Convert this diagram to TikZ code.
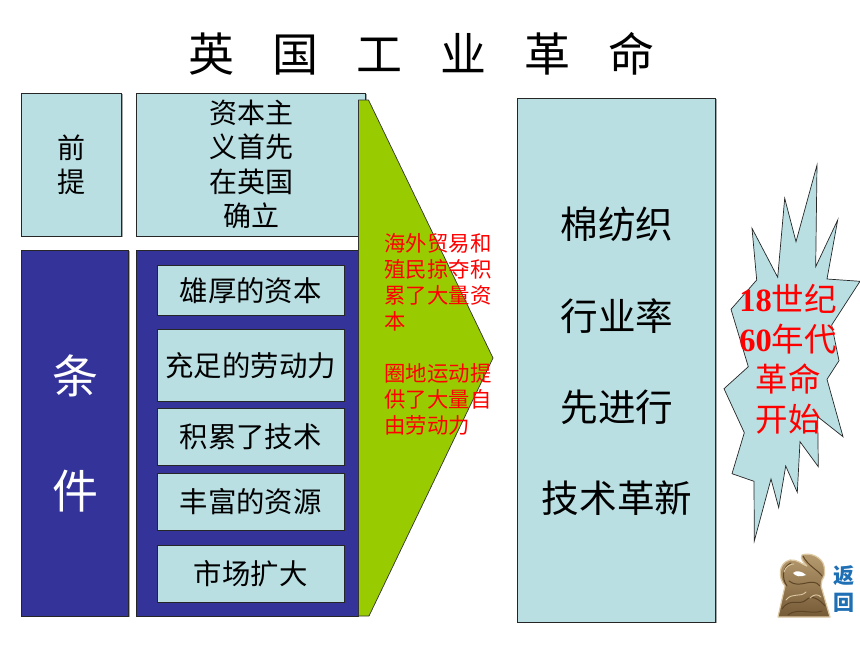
\documentclass[tikz,border=0pt]{standalone}
\usepackage{fontspec}
\usetikzlibrary{shadows}
\setmainfont{Liberation Serif}
\newfontfamily\cjk{Noto Sans CJK SC}
\definecolor{boxblue}{HTML}{B9DFE3}
\definecolor{navy}{HTML}{333399}
\definecolor{leaf}{HTML}{99CC00}
\definecolor{backblue}{HTML}{1F6FB5}
\definecolor{bronze}{HTML}{A98A5C}
\definecolor{bronzedark}{HTML}{5E4526}
\definecolor{bronzelight}{HTML}{DCC8A2}
\newcommand{\fs}[2]{\fontsize{#1}{#2}\selectfont\cjk}
\tikzset{
  x=1pt,y=-1pt,
  flat/.style={draw=black!85,line width=0.8pt,inner sep=0pt,outer sep=0pt,
    drop shadow={shadow xshift=1.2pt,shadow yshift=-0.8pt,fill=black!35,opacity=1}},
  lightbox/.style={flat,fill=boxblue,align=center,text=black},
  navybox/.style={flat,fill=navy,align=center,text=white},
  plain/.style={inner sep=0pt,outer sep=0pt,align=center},
  bronzeline/.style={draw=bronzedark,line width=1pt,line cap=round},
  bronzeglow/.style={draw=bronzelight,line width=0.9pt,line cap=round},
  innerbox/.style={lightbox,minimum width=186.5pt,font=\fs{28.4}{32}},
  bigtext/.style={plain,font=\fs{37.6}{40}},
}
\begin{document}
\begin{tikzpicture}
\useasboundingbox (0,0) rectangle (860,645);
% title
\node[plain,font=\fs{46}{50}] (title) at (421.5,54) {英\hspace{38pt}国\hspace{38pt}工\hspace{38pt}业\hspace{38pt}革\hspace{38pt}命};
% top boxes
\node[lightbox,minimum width=100pt,minimum height=143pt] (qian) at (71.75,164.5) {};
\node[plain,font=\fs{28}{34.3}] (qiantext) at (71.75,165) {前\\提};
\node[lightbox,minimum width=229.5pt,minimum height=143pt] (ziben) at (250.75,164.5) {};
\node[plain,font=\fs{28}{34.3}] (zibentext) at (251,164.5) {资本主\\义首先\\在英国\\确立};
% navy boxes
\node[navybox,minimum width=107pt,minimum height=365.5pt] (tiao) at (75.25,433.25) {};
\node[plain,text=white,font=\fs{46}{50}] (tiaoa) at (75.25,376) {条};
\node[plain,text=white,font=\fs{46}{50}] (tiaob) at (75.25,491) {件};
\node[navybox,minimum width=222pt,minimum height=365.5pt] (jian) at (247,433.25) {};
% inner boxes
\node[innerbox,minimum height=50.5pt] (a1) at (250.75,290.25) {雄厚的资本};
\node[innerbox,minimum height=72pt] (a2) at (250.75,365.5) {充足的劳动力};
\node[innerbox,minimum height=57pt] (a3) at (250.75,436.5) {积累了技术};
\node[innerbox,minimum height=57pt] (a4) at (250.75,501.5) {丰富的资源};
\node[innerbox,minimum height=57pt] (a5) at (250.75,573.5) {市场扩大};
% green arrow
\draw[draw=black!80,line width=0.7pt,fill=leaf,line join=round] (358.5,100) -- (368.5,100) -- (493,358) -- (369,616) -- (358.5,616) -- cycle;
\node[plain,anchor=north west,align=left,text=red,font=\fs{21.4}{26}] (redtext) at (384.5,233.5) {海外贸易和\\殖民掠夺积\\累了大量资\\本\\[26pt]圈地运动提\\供了大量自\\由劳动力};
% right box
\node[lightbox,minimum width=198pt,minimum height=523.5pt] (right) at (616.75,360.25) {};
\node[bigtext] (r1) at (617,224) {棉纺织};
\node[bigtext] (r2) at (617,316) {行业率};
\node[bigtext] (r3) at (617,407) {先进行};
\node[bigtext] (r4) at (617,498) {技术革新};
% burst
\draw[draw=black!85,line width=0.7pt,fill=boxblue,line join=miter]
 (817,165) -- (815.7,266.7) -- (837.7,220) -- (827,279) -- (860,281.3) -- (831.7,325)
 -- (839,360.7) -- (827,379.3) -- (843,436.7) -- (817.7,416.7) -- (818.3,466.7) -- (800,441.7)
 -- (797.3,492.3) -- (785.7,466) -- (778.7,507.7) -- (771,479) -- (754.3,541) -- (754,481.3)
 -- (732,473.7) -- (744.3,432.7) -- (724,388.7) -- (748.3,366.7) -- (731,309.3) -- (756.7,280)
 -- (752,228.3) -- (777.7,277.3) -- (784.7,198.3) -- (796,241.7) -- cycle;
\node[plain,text=red,font=\fontsize{32.5}{40}\selectfont] (burst) at (788,359) {\textbf{18}{\cjk 世纪}\\\textbf{60}{\cjk 年代}\\{\cjk 革命}\\{\cjk 开始}};
% bronze seal icon
\draw[bronzelight,line width=1.2pt,line join=round,top color=bronze!70!bronzelight,bottom color=bronzedark!70!bronze]
 (778,617) -- (785,586) .. controls (778,578) and (778,563) .. (790,560)
 .. controls (797,559) and (803,565) .. (807,566)
 .. controls (803,562) and (800,558) .. (802,555)
 .. controls (810,552) and (822,557) .. (824,566)
 .. controls (825,572) and (825,576) .. (822,580) -- (821,586) -- (830,617) -- cycle;
\fill[white] (793,573) .. controls (796,570) and (802,571) .. (806,575) .. controls (801,577) and (796,577) .. (793,573) -- cycle;
\draw[bronzeline] (787,586) .. controls (781,578) and (783,566) .. (791,563);
\draw[bronzeline] (803,556) .. controls (808,566) and (818,570) .. (822,576);
\draw[bronzeline] (789,581) .. controls (800,590) and (812,576) .. (820,586);
\draw[bronzeline] (782,609) .. controls (790,597) and (800,606) .. (806,600) .. controls (812,594) and (820,600) .. (825,606);
\draw[bronzeline] (788,615) .. controls (798,607) and (810,615) .. (822,611);
\draw[bronzeglow] (786,600) .. controls (792,592) and (800,598) .. (806,592);
\draw[bronzeglow] (810,598) .. controls (814,594) and (818,594) .. (821,597);
\draw[bronzeglow] (784,572) .. controls (786,566) and (790,564) .. (794,564);
% back label
\node[plain,text=backblue,font=\fs{21}{24}\bfseries] (fan) at (844,576) {返};
\node[plain,text=backblue,font=\fs{21}{24}\bfseries] (hui) at (844,603) {回};
\end{tikzpicture}
\end{document}
